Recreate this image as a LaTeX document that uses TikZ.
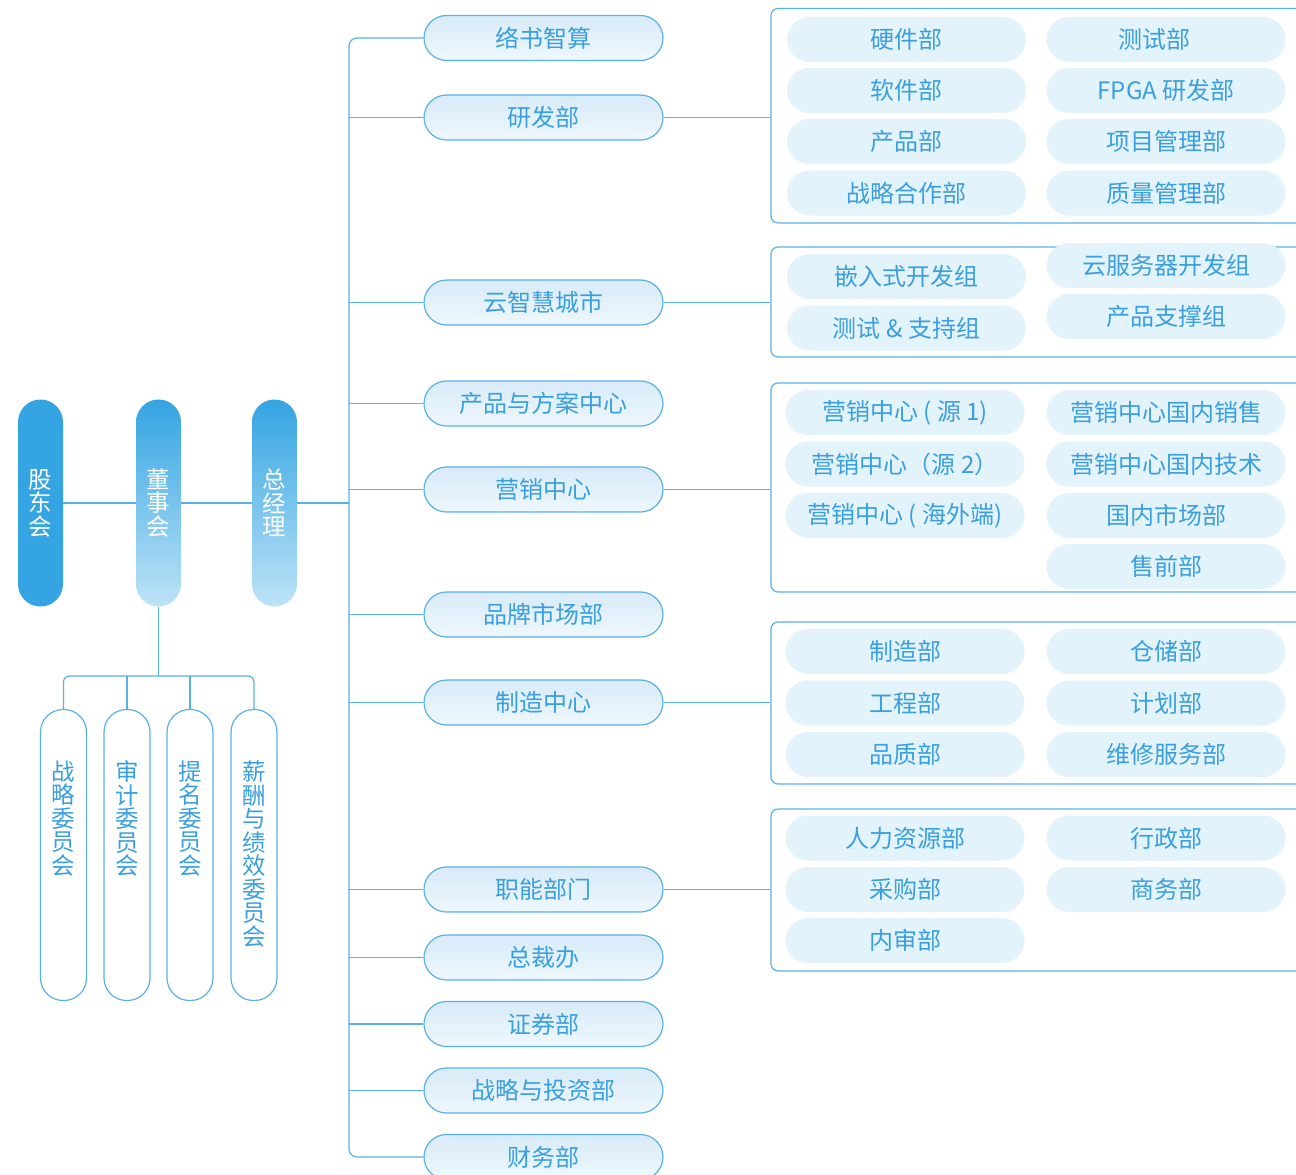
\documentclass[tikz,border=0pt]{standalone}
\usepackage{fontspec}
\setmainfont{Noto Sans CJK SC}
\definecolor{lineblue}{HTML}{5AB1E6}
\definecolor{txtblue}{HTML}{3A9FDE}
\definecolor{deep}{HTML}{34A4E2}
\definecolor{pale}{HTML}{BDE3F7}
\definecolor{midtop}{HTML}{D8EBF8}
\definecolor{midbot}{HTML}{EEF7FD}
\definecolor{innerfill}{HTML}{E3F3FC}
\begin{document}
\begin{tikzpicture}[x=1pt,y=-1pt,
  txt/.style={font=\fontsize{23.5}{23.5}\selectfont},
  htxt/.style={font=\fontsize{24}{26}\selectfont},
  vpill/.style={txt,minimum width=45,minimum height=207,rounded corners=22.5,inner sep=0,align=center,text=white},
  mpill/.style={htxt,draw=lineblue,line width=1.2,top color=midtop,bottom color=midbot,minimum width=239,minimum height=45,rounded corners=22.5,text=txtblue,inner sep=0},
  ipill/.style={htxt,fill=innerfill,minimum width=239,minimum height=45,rounded corners=22.5,text=txtblue,inner sep=0},
  itext/.style={htxt,text=txtblue,inner sep=0},
  grp/.style={draw=lineblue,line width=1.2,rounded corners=7,minimum width=549,inner sep=0},
  cpill/.style={draw=lineblue,line width=1.2,fill=white,minimum width=46,minimum height=291,rounded corners=22.5,inner sep=0},
  ctext/.style={txt,align=center,text=txtblue,inner sep=0},
  conn/.style={draw=lineblue,line width=1.2}]
\useasboundingbox (0,0) rectangle (1296,1175);
\fill[white] (0,0) rectangle (1296,1175);

% left pills
\node[vpill,fill=deep] (gdh) at (40.5,503) {股\\东\\会};
\node[vpill,top color=deep,bottom color=pale] (dsh) at (158.5,503) {董\\事\\会};
\node[vpill,top color=deep,bottom color=pale] (zjl) at (274.5,503) {总\\经\\理};
\draw[conn] (gdh.east) -- (dsh.west);
\draw[conn] (dsh.east) -- (zjl.west);

% committees
\coordinate (bar) at (0,676);
\node[cpill] (c1) at (63.5,855) {};
\node[cpill] (c2) at (127,855) {};
\node[cpill] (c3) at (190,855) {};
\node[cpill] (c4) at (254,855) {};
\node[ctext] (c1t) at (63.5,818.5) {战\\略\\委\\员\\会};
\node[ctext] (c2t) at (127,818.5) {审\\计\\委\\员\\会};
\node[ctext] (c3t) at (190,818.5) {提\\名\\委\\员\\会};
\node[ctext] (c4t) at (254,854) {薪\\酬\\与\\绩\\效\\委\\员\\会};
\draw[conn] (dsh.south) -- (dsh.south |- bar);
\draw[conn,rounded corners=6] (c1.north) -- (c1.north |- bar) -- (c4.north |- bar) -- (c4.north);
\draw[conn] (c2.north) -- (c2.north |- bar);
\draw[conn] (c3.north) -- (c3.north |- bar);

% middle pills
\coordinate (trunk) at (349,0);
\node[mpill] (m1) at (543.5,38) {络书智算};
\node[mpill] (m2) at (543.5,117.5) {研发部};
\node[mpill] (m3) at (543.5,302.5) {云智慧城市};
\node[mpill] (m4) at (543.5,403.5) {产品与方案中心};
\node[mpill] (m5) at (543.5,489.5) {营销中心};
\node[mpill] (m6) at (543.5,614.5) {品牌市场部};
\node[mpill] (m7) at (543.5,702.5) {制造中心};
\node[mpill] (m8) at (543.5,889.5) {职能部门};
\node[mpill] (m9) at (543.5,957.5) {总裁办};
\node[mpill] (m10) at (543.5,1024) {证券部};
\node[mpill] (m11) at (543.5,1090.5) {战略与投资部};
\node[mpill] (m12) at (543.5,1157) {财务部};
\draw[conn,rounded corners=8] (m1.west) -- (m1.west -| trunk) -- (m12.west -| trunk) -- (m12.west);
\foreach \i in {2,...,11} \draw[conn] (m\i.west -| trunk) -- (m\i.west);
\draw[conn] (zjl.east) -- (zjl.east -| trunk);

% groups
\node[grp,minimum height=214.5] (g1) at (1045.5,115.75) {};
\node[grp,minimum height=110] (g2) at (1045.5,302) {};
\node[grp,minimum height=209] (g3) at (1045.5,487.5) {};
\node[grp,minimum height=162] (g4) at (1045.5,703) {};
\node[grp,minimum height=162] (g5) at (1045.5,890) {};
\draw[conn] (m2.east) -- (m2.east -| g1.west);
\draw[conn] (m3.east) -- (m3.east -| g2.west);
\draw[conn] (m5.east) -- (m5.east -| g3.west);
\draw[conn] (m7.east) -- (m7.east -| g4.west);
\draw[conn] (m8.east) -- (m8.east -| g5.west);

% group 1
\node[ipill] (a1) at (906.5,39.5) {硬件部};
\node[ipill] (a2) at (906.5,90.5) {软件部};
\node[ipill] (a3) at (906.5,141.5) {产品部};
\node[ipill] (a4) at (906.5,193) {战略合作部};
\node[ipill] (b1) at (1166,39.5) {};
\node[itext] (b1t) at (1154,39.5) {测试部};
\node[ipill] (b2) at (1166,90.5) {FPGA 研发部};
\node[ipill] (b3) at (1166,141.5) {项目管理部};
\node[ipill] (b4) at (1166,193) {质量管理部};
% group 2
\node[ipill] (a5) at (906.5,276.5) {嵌入式开发组};
\node[ipill] (a6) at (906.5,328) {测试 \& 支持组};
\node[ipill] (b5) at (1166,265.5) {云服务器开发组};
\node[ipill] (b6) at (1166,316.5) {产品支撑组};
% group 3
\node[ipill] (a7) at (905,412.5) {营销中心 ( 源 1)};
\node[ipill] (a8) at (905,464) {营销中心（源 2）};
\node[ipill] (a9) at (905,515.5) {营销中心 ( 海外端)};
\node[ipill] (b7) at (1166,412.5) {营销中心国内销售};
\node[ipill] (b8) at (1166,464) {营销中心国内技术};
\node[ipill] (b9) at (1166,515.5) {国内市场部};
\node[ipill] (b10) at (1166,566.5) {售前部};
% group 4
\node[ipill] (a10) at (905,651.5) {制造部};
\node[ipill] (a11) at (905,703) {工程部};
\node[ipill] (a12) at (905,754.5) {品质部};
\node[ipill] (b11) at (1166,651.5) {仓储部};
\node[ipill] (b12) at (1166,703) {计划部};
\node[ipill] (b13) at (1166,754.5) {维修服务部};
% group 5
\node[ipill] (a13) at (905,838) {人力资源部};
\node[ipill] (a14) at (905,889.5) {采购部};
\node[ipill] (a15) at (905,940.5) {内审部};
\node[ipill] (b14) at (1166,838) {行政部};
\node[ipill] (b15) at (1166,889.5) {商务部};
\end{tikzpicture}
\end{document}
